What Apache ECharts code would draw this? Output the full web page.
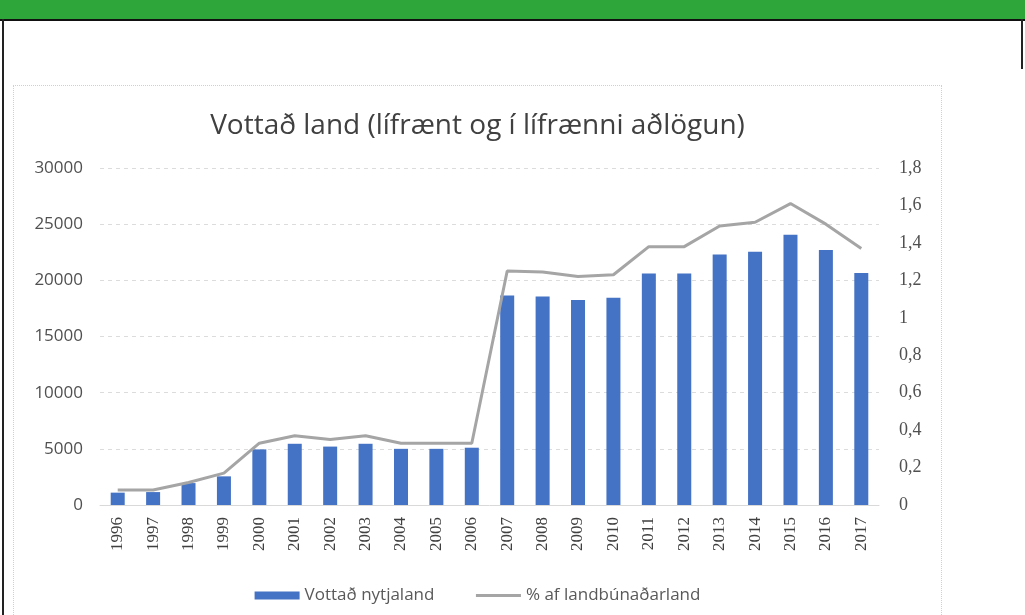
<!DOCTYPE html>
<html>
<head>
<meta charset="utf-8">
<script src="https://cdn.jsdelivr.net/npm/echarts@6/dist/echarts.min.js"></script>
<style>
  body { margin: 0; background: #fff; }
  #page { position: relative; width: 1025px; height: 615px; overflow: hidden; }
  #header { position: absolute; left: 0; top: 0; width: 1025px; height: 19px; background: #2fa63a; border-bottom: 2px solid #111; }
  #leftBorder { position: absolute; left: 2px; top: 19px; width: 2px; height: 596px; background: #222; }
  #rightBorder { position: absolute; left: 1021px; top: 19px; width: 2px; height: 50px; background: #222; }
  #chart { position: absolute; left: 13px; top: 85px; width: 929px; height: 530px;
           border-top: 1px dotted #d0d0d0; border-left: 1px dotted #d0d0d0; border-right: 1px dotted #d0d0d0; box-sizing: border-box; }
</style>
</head>
<body>
<div id="page">
  <div id="header"></div>
  <div id="leftBorder"></div>
  <div id="rightBorder"></div>
  <div id="chart"></div>
</div>
<script>
  const years = ['1996', '1997', '1998', '1999', '2000', '2001', '2002', '2003', '2004', '2005', '2006',
                 '2007', '2008', '2009', '2010', '2011', '2012', '2013', '2014', '2015', '2016', '2017'];
  // Vottað nytjaland (ha)
  const land = [1100, 1150, 1950, 2550, 4950, 5450, 5200, 5450, 5000, 5000, 5100,
                18650, 18550, 18250, 18450, 20600, 20600, 22300, 22550, 24050, 22700, 20650];
  // % af landbúnaðarland
  const share = [0.08, 0.08, 0.12, 0.17, 0.33, 0.37, 0.35, 0.37, 0.33, 0.33, 0.33,
                 1.25, 1.245, 1.22, 1.23, 1.38, 1.38, 1.49, 1.51, 1.61, 1.50, 1.37];

  let myChart = echarts.init(document.getElementById('chart'));
  myChart.setOption({
      animation: false,
      title: {
          text: 'Vottað land (lífrænt og í lífrænni aðlögun)',
          left: 'center',
          top: 21,
          textStyle: {
              fontFamily: 'Open Sans',
              fontSize: 28,
              fontWeight: 'normal',
              color: '#404040'
          }
      },
      legend: {
          top: 496,
          left: 'center',
          itemWidth: 45,
          itemHeight: 8,
          itemGap: 40,
          textStyle: {
              fontFamily: 'Open Sans',
              fontSize: 17,
              color: '#595959'
          },
          data: [
              {name: 'Vottað nytjaland', icon: 'rect'},
              {name: '% af landbúnaðarland', itemStyle: {opacity: 0}, lineStyle: {width: 3}}
          ]
      },
      grid: {
          left: 86,
          right: 62,
          top: 82,
          bottom: 110
      },
      xAxis: {
          type: 'category',
          data: years,
          axisTick: {show: false},
          axisLine: {lineStyle: {color: '#d9d9d9'}},
          axisLabel: {
              interval: 0,
              rotate: 90,
              margin: 12,
              fontFamily: 'Liberation Serif',
              fontSize: 17,
              color: '#404040'
          }
      },
      yAxis: [
          {
              type: 'value',
              min: 0,
              max: 30000,
              interval: 5000,
              axisLine: {show: false},
              axisTick: {show: false},
              splitLine: {lineStyle: {color: '#dcdcdc', type: [4, 4]}},
              axisLabel: {
                  margin: 17,
                  fontFamily: 'Open Sans',
                  fontSize: 17,
                  color: '#505050',
                  formatter: function (v) {
                      return String(v);
                  }
              }
          },
          {
              type: 'value',
              min: 0,
              max: 1.8,
              interval: 0.2,
              axisLine: {show: false},
              axisTick: {show: false},
              splitLine: {show: false},
              axisLabel: {
                  margin: 20,
                  fontFamily: 'Liberation Serif',
                  fontSize: 18,
                  color: '#505050',
                  formatter: function (v) {
                      return String(+v.toFixed(1)).replace('.', ',');
                  }
              }
          }
      ],
      series: [
          {
              name: 'Vottað nytjaland',
              type: 'bar',
              data: land,
              barWidth: 14,
              itemStyle: {color: '#4472c4'}
          },
          {
              name: '% af landbúnaðarland',
              type: 'line',
              yAxisIndex: 1,
              data: share,
              symbol: 'none',
              lineStyle: {color: '#a5a5a5', width: 3},
              itemStyle: {color: '#a5a5a5'}
          }
      ]
  });
</script>
</body>
</html>
